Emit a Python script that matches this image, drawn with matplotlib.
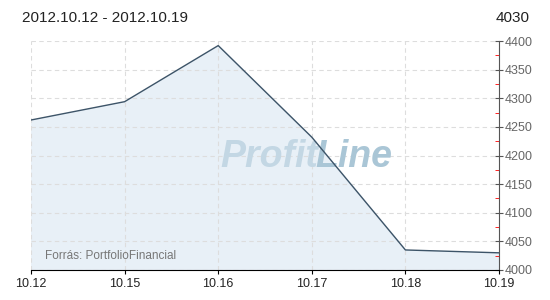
import matplotlib
matplotlib.use("Agg")
import matplotlib.pyplot as plt
from matplotlib.ticker import MultipleLocator

dates = ["10.12", "10.15", "10.16", "10.17", "10.18", "10.19"]
values = [4262, 4294, 4392, 4232, 4035, 4030]
title_left = "2012.10.12 - 2012.10.19"
title_right = "4030"
source = "Forrás: PortfolioFinancial"

plt.rcParams['font.family'] = ['Liberation Sans', 'DejaVu Sans']

fig = plt.figure(figsize=(5.5, 3), dpi=100)
ax = fig.add_axes([31/550, 30/300, 468/550, 229/300])
x = list(range(len(dates)))
ax.fill_between(x, values, 4000, color="#e8f0f7", zorder=1)
ax.plot(x, values, color="#3d5468", lw=1.0, zorder=3)
ax.set_xlim(0, len(dates) - 1)
ax.set_ylim(4000, 4400)
ax.set_xticks(x)
ax.set_xticklabels(dates)
ax.yaxis.set_major_locator(MultipleLocator(50))
ax.yaxis.set_minor_locator(MultipleLocator(25))
ax.yaxis.tick_right()
ax.grid(True, which="major", color="#dddddd", ls=(0, (4, 3)), lw=0.8, zorder=0)
for s in ["top", "left"]:
    ax.spines[s].set_visible(False)
ax.spines["right"].set_color("#555555")
ax.spines["bottom"].set_color("#000000")
ax.tick_params(axis="y", which="major", direction="inout", length=6, color="#555555",
               labelsize=9, labelcolor="#666666", pad=1)
ax.tick_params(axis="y", which="minor", direction="in", length=3, color="#ff0000")
ax.tick_params(axis="x", which="major", direction="out", length=3, color="#000000",
               labelsize=9, labelcolor="#222222", pad=3)

split = (318 - 31) / 468
ax.text(split, 0.495, "Profit", transform=ax.transAxes, ha="right", va="center",
        fontsize=27, fontweight="bold", fontstyle="italic", color="#c3d7e4", zorder=2)
ax.text(split - 0.005, 0.495, "Line", transform=ax.transAxes, ha="left", va="center",
        fontsize=27, fontweight="bold", fontstyle="italic", color="#aac6d6", zorder=2)
ax.text(0.03, 0.06, source, transform=ax.transAxes, ha="left", va="center",
        fontsize=8.5, color="#777777", zorder=4)

fig.text(22/550, 1 - 18/300, title_left, ha="left", va="center", fontsize=11, color="#222222")
fig.text(530/550, 1 - 18/300, title_right, ha="right", va="center", fontsize=11, color="#222222")

fig.savefig("out.png", dpi=100)
